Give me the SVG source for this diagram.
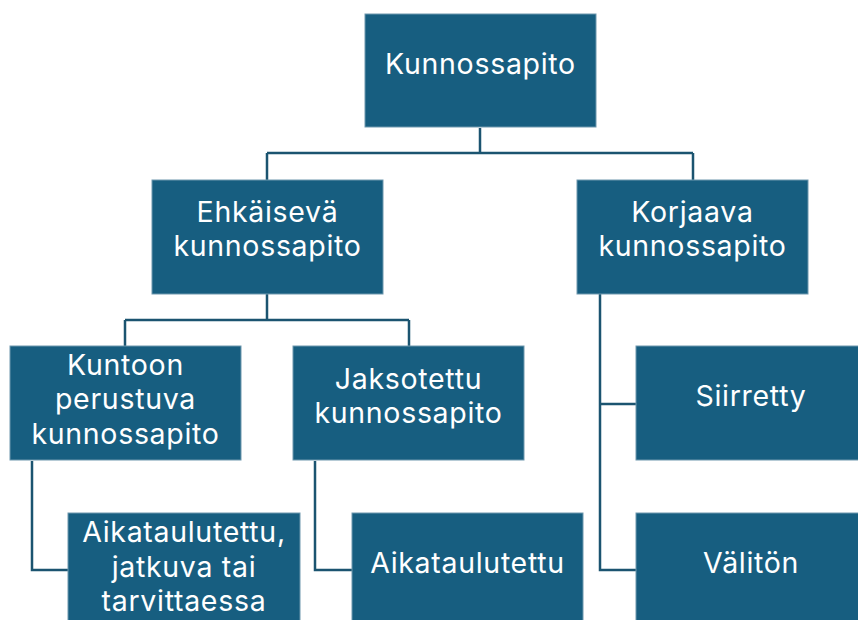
<svg xmlns="http://www.w3.org/2000/svg" width="858" height="620" viewBox="0 0 858 620">
<style>
.box{fill:#175e80;stroke:#6e98ae;stroke-width:1}
.t{font-family:Inter,Roboto,"Liberation Sans",sans-serif;font-size:28.5px;letter-spacing:0.7px;fill:#ffffff;text-anchor:middle}
.c{fill:none;stroke:#1b5470;stroke-width:2.5}
</style>
<rect width="858" height="620" fill="#ffffff"/>
<g id="connectors">
<path class="c" d="M480,128V153M267,153H693M267,153V180M693,153V180"/>
<path class="c" d="M267,294V320M125,320H409M125,320V347M409,320V347"/>
<path class="c" d="M32,461V570H68"/>
<path class="c" d="M315,461V570H352"/>
<path class="c" d="M600,294V570H636M600,404H636"/>
</g>
<g id="n-root"><rect class="box" x="365" y="14" width="231" height="113"/><text class="t" x="480.5" y="74">Kunnossapito</text></g>
<g id="n-ehk"><rect class="box" x="152" y="180" width="231" height="114"/><text class="t" x="267.5" y="222">Ehkäisevä</text><text class="t" x="267.5" y="256">kunnossapito</text></g>
<g id="n-kor"><rect class="box" x="577" y="180" width="231" height="114"/><text class="t" x="692.5" y="222">Korjaava</text><text class="t" x="692.5" y="256">kunnossapito</text></g>
<g id="n-kunt"><rect class="box" x="10" y="346" width="231" height="114"/><text class="t" x="125.5" y="375">Kuntoon</text><text class="t" x="125.5" y="409">perustuva</text><text class="t" x="125.5" y="444">kunnossapito</text></g>
<g id="n-jak"><rect class="box" x="293" y="346" width="231" height="114"/><text class="t" x="408.5" y="389">Jaksotettu</text><text class="t" x="408.5" y="423">kunnossapito</text></g>
<g id="n-siir"><rect class="box" x="636" y="346" width="231" height="114"/><text class="t" x="751" y="406">Siirretty</text></g>
<g id="n-aik1"><rect class="box" x="68" y="513" width="232" height="114"/><text class="t" x="184" y="542">Aikataulutettu,</text><text class="t" x="184" y="577">jatkuva tai</text><text class="t" x="184" y="611">tarvittaessa</text></g>
<g id="n-aik2"><rect class="box" x="352" y="513" width="231" height="114"/><text class="t" x="467.5" y="573">Aikataulutettu</text></g>
<g id="n-val"><rect class="box" x="636" y="513" width="231" height="114"/><text class="t" x="751" y="573">Välitön</text></g>
</svg>
